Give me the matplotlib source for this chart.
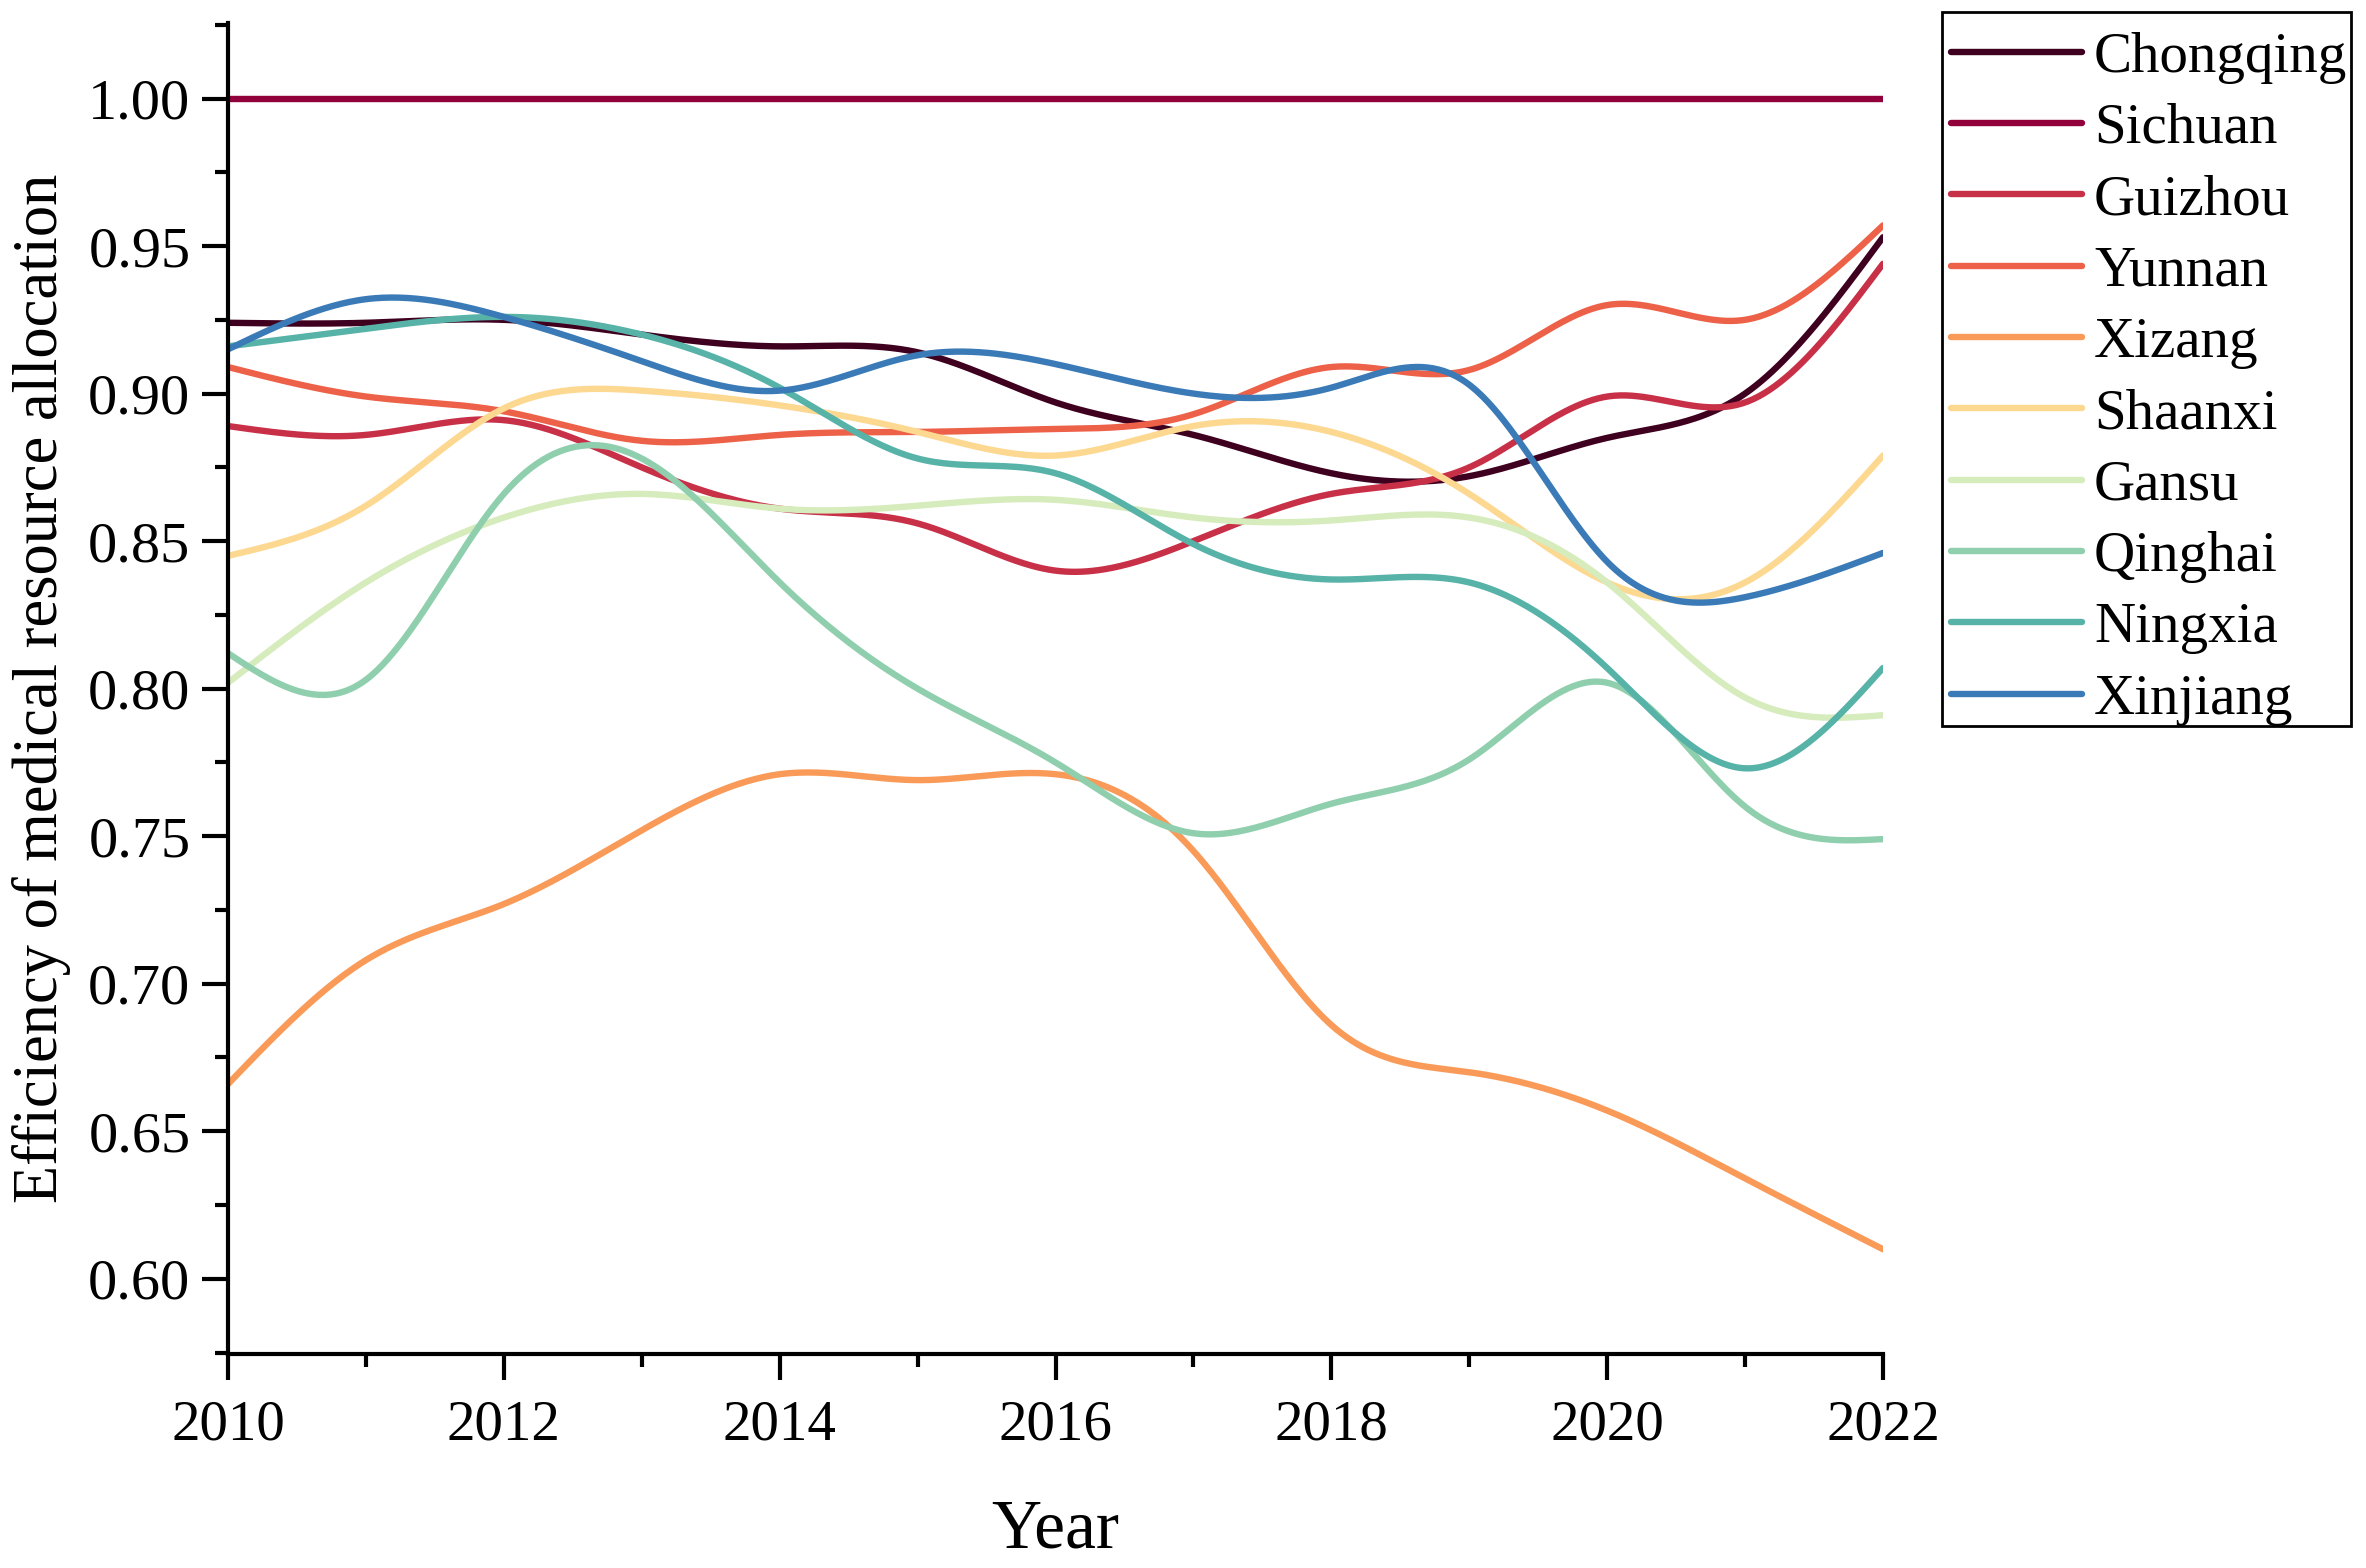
import numpy as np
import matplotlib
matplotlib.use("Agg")
import matplotlib.pyplot as plt
from matplotlib.patches import Rectangle
from matplotlib.ticker import MultipleLocator, FormatStrFormatter

years = [2010, 2011, 2012, 2013, 2014, 2015, 2016, 2017, 2018, 2019, 2020, 2021, 2022]
regions = ["Chongqing", "Sichuan", "Guizhou", "Yunnan", "Xizang", "Shaanxi",
           "Gansu", "Qinghai", "Ningxia", "Xinjiang"]
chongqing = [0.924, 0.924, 0.925, 0.920, 0.916, 0.914, 0.897, 0.886, 0.873, 0.872, 0.885, 0.900, 0.953]
sichuan   = [1.000] * 13
guizhou   = [0.889, 0.886, 0.891, 0.875, 0.861, 0.856, 0.840, 0.850, 0.866, 0.875, 0.899, 0.897, 0.944]
yunnan    = [0.909, 0.899, 0.894, 0.884, 0.886, 0.887, 0.888, 0.893, 0.909, 0.908, 0.930, 0.925, 0.957]
xizang    = [0.666, 0.708, 0.727, 0.752, 0.771, 0.769, 0.771, 0.745, 0.686, 0.670, 0.657, 0.634, 0.610]
shaanxi   = [0.845, 0.862, 0.895, 0.901, 0.896, 0.887, 0.879, 0.889, 0.887, 0.866, 0.836, 0.836, 0.879]
gansu     = [0.802, 0.836, 0.858, 0.866, 0.861, 0.862, 0.864, 0.858, 0.857, 0.858, 0.836, 0.797, 0.791]
qinghai   = [0.812, 0.803, 0.866, 0.878, 0.836, 0.800, 0.775, 0.751, 0.761, 0.776, 0.802, 0.760, 0.749]
ningxia   = [0.916, 0.922, 0.926, 0.920, 0.902, 0.878, 0.873, 0.849, 0.837, 0.836, 0.807, 0.773, 0.807]
xinjiang  = [0.915, 0.932, 0.926, 0.911, 0.901, 0.913, 0.910, 0.900, 0.902, 0.903, 0.843, 0.831, 0.846]
series = [chongqing, sichuan, guizhou, yunnan, xizang, shaanxi, gansu, qinghai, ningxia, xinjiang]
colors = ["#3f001f", "#92003c", "#c83048", "#ec6148", "#f99a58", "#fdd891",
          "#d6ecbc", "#90cfae", "#57b2a8", "#3a7ab7"]


def natural_spline(x, y, n=600):
    x = np.asarray(x, float)
    y = np.asarray(y, float)
    m = len(x)
    h = np.diff(x)
    A = np.zeros((m, m))
    b = np.zeros(m)
    A[0, 0] = 1
    A[-1, -1] = 1
    for i in range(1, m - 1):
        A[i, i - 1] = h[i - 1]
        A[i, i] = 2 * (h[i - 1] + h[i])
        A[i, i + 1] = h[i]
        b[i] = 3 * ((y[i + 1] - y[i]) / h[i] - (y[i] - y[i - 1]) / h[i - 1])
    c = np.linalg.solve(A, b)
    bb = np.zeros(m - 1)
    d = np.zeros(m - 1)
    for i in range(m - 1):
        bb[i] = (y[i + 1] - y[i]) / h[i] - h[i] * (2 * c[i] + c[i + 1]) / 3
        d[i] = (c[i + 1] - c[i]) / (3 * h[i])
    xs = np.linspace(x[0], x[-1], n)
    idx = np.clip(np.searchsorted(x, xs) - 1, 0, m - 2)
    dx = xs - x[idx]
    ys = y[idx] + bb[idx] * dx + c[idx] * dx ** 2 + d[idx] * dx ** 3
    return xs, ys


plt.rcParams['font.family'] = ['Liberation Serif', 'DejaVu Serif']
plt.rcParams['mathtext.fontset'] = 'stix'

W, H = 2366, 1568
fig = plt.figure(figsize=(W / 100, H / 100), dpi=100)
ax = fig.add_axes([228 / W, 1 - 1354 / H, (1883 - 228) / W, (1354 - 23) / H])

handles = []
for name, vals, col in zip(regions, series, colors):
    xs, ys = natural_spline(years, vals)
    h, = ax.plot(xs, ys, color=col, lw=4.6, label=name, solid_capstyle='round')
    handles.append(h)

ax.set_xlim(2010, 2022)
ax.set_ylim(0.5745, 1.0256)
ax.xaxis.set_major_locator(MultipleLocator(2))
ax.xaxis.set_minor_locator(MultipleLocator(1))
ax.yaxis.set_minor_locator(MultipleLocator(0.025))
ax.set_yticks(np.arange(0.60, 1.001, 0.05))
ax.yaxis.set_major_formatter(FormatStrFormatter('%.2f'))

for s in ['top', 'right']:
    ax.spines[s].set_visible(False)
for s in ['left', 'bottom']:
    ax.spines[s].set_linewidth(3)
ax.tick_params(axis='both', which='major', direction='out', length=19, width=3,
               labelsize=42, pad=8)
ax.tick_params(axis='both', which='minor', direction='out', length=9.5, width=3)
ax.tick_params(axis='x', which='major', pad=14, labelsize=41)

ax.set_xlabel('Year', fontsize=50, labelpad=34)
ax.set_ylabel('Efficiency of medical resource allocation', fontsize=45, labelpad=12)

leg = fig.legend(handles=handles, loc='upper left',
                 bbox_to_anchor=(1942 / W, 1 - 23 / H),
                 fontsize=41, frameon=False,
                 handlelength=2.3, handletextpad=0.22, labelspacing=0.34,
                 borderpad=0.15, borderaxespad=0)

# legend frame box
fig.patches.append(Rectangle((1942 / W, 1 - 726 / H), (2351 - 1942) / W, (726 - 12) / H,
                             transform=fig.transFigure, fill=False,
                             edgecolor='black', linewidth=2))

fig.savefig('out.png', dpi=100)
